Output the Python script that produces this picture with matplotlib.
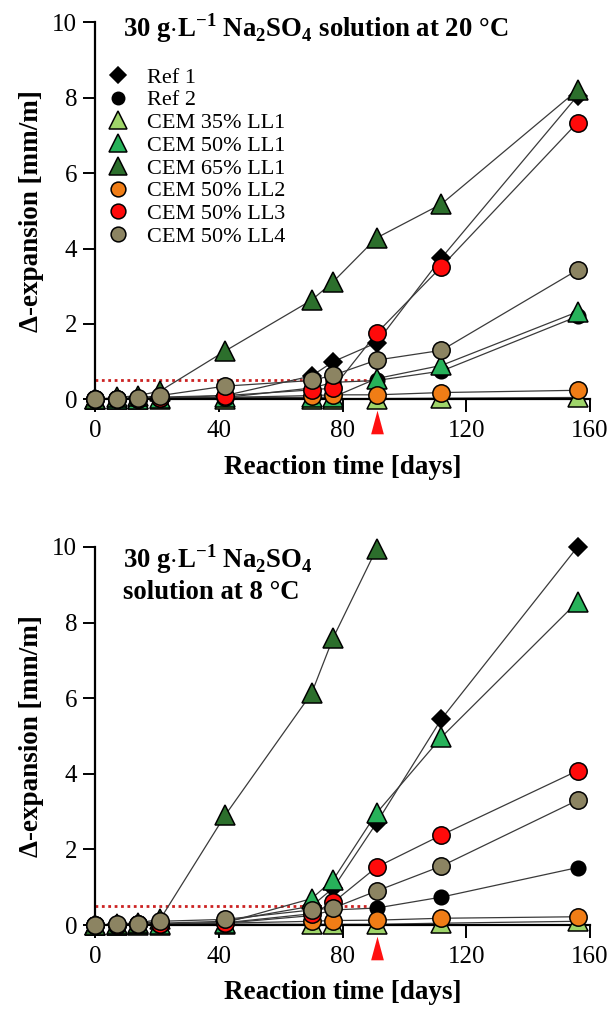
import matplotlib
matplotlib.use("Agg")
import matplotlib.pyplot as plt
from matplotlib.lines import Line2D

days = [0, 7, 14, 21, 42, 70, 77, 91, 112, 156]

labels = ["Ref 1", "Ref 2", "CEM 35% LL1", "CEM 50% LL1", "CEM 65% LL1",
          "CEM 50% LL2", "CEM 50% LL3", "CEM 50% LL4"]

# 20 °C
ref1_20 = [0.0, 0.02, 0.04, 0.06, 0.1, 0.62, 1.0, 1.5, 3.75, 8.05]
ref2_20 = [0.0, 0.01, 0.02, 0.03, 0.05, 0.3, 0.45, 0.5, 0.75, 2.2]
c35_20 = [0.0, 0.0, 0.01, 0.01, 0.02, 0.02, 0.02, 0.02, 0.03, 0.05]
c50_20 = [0.0, 0.01, 0.02, 0.03, 0.05, 0.05, 0.06, 0.55, 0.9, 2.32]
c65_20 = [0.0, 0.05, 0.1, 0.22, 1.28, 2.63, 3.12, 4.28, 5.18, 8.2]
ll2_20 = [0.0, 0.01, 0.02, 0.03, 0.05, 0.1, 0.12, 0.12, 0.18, 0.24]
ll3_20 = [0.0, 0.01, 0.02, 0.03, 0.1, 0.25, 0.3, 1.75, 3.52, 7.34]
ll4_20 = [0.0, 0.02, 0.04, 0.1, 0.35, 0.5, 0.64, 1.04, 1.3, 3.43]

# 8 °C
days_65_8 = [0, 7, 14, 21, 42, 70, 77, 91]
ref1_8 = [0.0, 0.02, 0.03, 0.05, 0.1, 0.5, 0.98, 2.7, 5.45, 10.0]
ref2_8 = [0.0, 0.01, 0.02, 0.03, 0.05, 0.25, 0.4, 0.45, 0.74, 1.52]
c35_8 = [0.0, 0.0, 0.01, 0.01, 0.02, 0.02, 0.02, 0.02, 0.05, 0.1]
c50_8 = [0.0, 0.01, 0.02, 0.03, 0.06, 0.7, 1.2, 2.96, 4.97, 8.55]
c65_8 = [0.0, 0.03, 0.06, 0.15, 2.9, 6.13, 7.6, 9.95]
ll2_8 = [0.0, 0.01, 0.02, 0.03, 0.05, 0.1, 0.12, 0.13, 0.18, 0.22]
ll3_8 = [0.0, 0.01, 0.02, 0.03, 0.06, 0.3, 0.6, 1.53, 2.38, 4.08]
ll4_8 = [0.0, 0.02, 0.04, 0.1, 0.15, 0.4, 0.45, 0.9, 1.56, 3.3]

threshold = 0.5
arrow_day = 91

markers = ["D", "o", "^", "^", "^", "o", "o", "o"]
colors = ["black", "black", "#9fd56a", "#27b25a", "#2c6f2c", "#f07d16", "#ff0a0a", "#8c8462"]
msizes = [9.5, 10.5, 15, 15, 15, 12.5, 12.5, 12.5]

plt.rcParams['font.family'] = ['Liberation Serif', 'DejaVu Serif']
plt.rcParams['mathtext.fontset'] = 'custom'
plt.rcParams['mathtext.rm'] = 'Liberation Serif'
plt.rcParams['mathtext.bf'] = 'Liberation Serif:bold'

fig = plt.figure(figsize=(6.10, 10.11), dpi=100)
ax1 = fig.add_axes([0.156, 0.605, 0.811, 0.373])
ax2 = fig.add_axes([0.156, 0.085, 0.811, 0.374])

series20 = [(days, ref1_20), (days, ref2_20), (days, c35_20), (days, c50_20),
            (days, c65_20), (days, ll2_20), (days, ll3_20), (days, ll4_20)]
series8 = [(days, ref1_8), (days, ref2_8), (days, c35_8), (days, c50_8),
           (days_65_8, c65_8), (days, ll2_8), (days, ll3_8), (days, ll4_8)]

order = list(range(8))


def draw(ax, series, title, ty):
    for i in order:
        x, y = series[i]
        ax.plot(x, y, color="#3a3a3a", lw=0.9, zorder=2, clip_on=False)
    ax.plot([0, 89], [threshold, threshold], color="#cc2222", lw=2.0,
            ls=(0, (1, 1.3)), zorder=1.5)
    for i in order:
        x, y = series[i]
        ax.plot(x, y, ls="none", marker=markers[i], ms=msizes[i],
                mfc=colors[i], mec="black", mew=1.1, zorder=3 + i * 0.01,
                clip_on=False)
    ax.plot([arrow_day], [-0.61], ls="none",
            marker=[(-0.54, -1), (0.54, -1), (0, 1)], ms=17,
            mfc="#ff1010", mec="none", clip_on=False, zorder=4)
    ax.set_xlim(0, 160)
    ax.set_ylim(0, 10)
    ax.set_xticks([0, 40, 80, 120, 160])
    ax.set_yticks([0, 2, 4, 6, 8, 10])
    for s in ["top", "right"]:
        ax.spines[s].set_visible(False)
    for s in ["left", "bottom"]:
        ax.spines[s].set_linewidth(1.6)
    ax.tick_params(direction="out", length=9, width=1.4, labelsize=18, pad=4)
    ax.tick_params(axis="x", pad=6)
    ax.set_xlabel("Reaction time [days]", fontsize=19.5, fontweight="bold", labelpad=9)
    ax.set_ylabel("Δ-expansion [mm/m]", fontsize=19.5, fontweight="bold", labelpad=6)
    ax.text(0.057, ty, title, transform=ax.transAxes, fontsize=19.3,
            fontweight="bold", va="top", ha="left", linespacing=1.2)


draw(ax1, series20, r"30 g$\cdot$L$^{\mathbf{-1}}$ Na$_{\mathbf{2}}$SO$_{\mathbf{4}}$ solution at 20 °C", 1.03)
draw(ax2, series8, "30 g$\\cdot$L$^{\\mathbf{-1}}$ Na$_{\\mathbf{2}}$SO$_{\\mathbf{4}}$\nsolution at 8 °C", 1.012)

handles = [Line2D([], [], ls="none", marker=markers[i], ms=msizes[i] * 0.85,
                  mfc=colors[i], mec="black", mew=1.1) for i in range(8)]
ax1.legend(handles, labels, loc="upper left", bbox_to_anchor=(-0.003, 0.905),
           frameon=False, fontsize=16, handletextpad=0.6, labelspacing=0.1,
           borderaxespad=0.0, handlelength=1.4)

fig.savefig("out.png", dpi=100)
